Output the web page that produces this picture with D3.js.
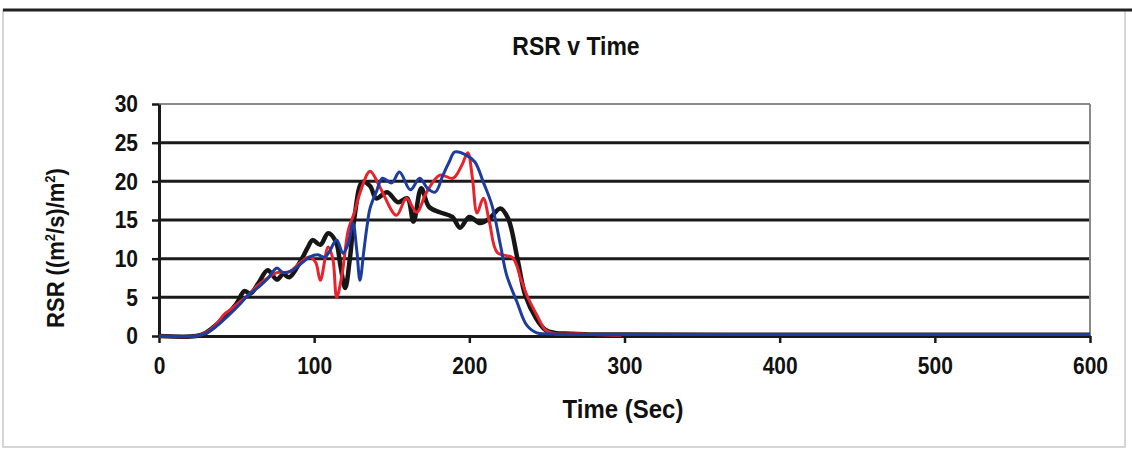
<!DOCTYPE html>
<html>
<head>
<meta charset="utf-8">
<script src="https://cdn.jsdelivr.net/npm/d3@7"></script>
<style>
  body { margin: 0; background: #fff; }
  text { font-family: "Liberation Sans", Arial, sans-serif; font-weight: bold; fill: #111; }
</style>
</head>
<body>
<script>
const w = 1132;
const h = 450;

// tick values
const xTicks = [0, 100, 200, 300, 400, 500, 600];
const yTicks = [0, 5, 10, 15, 20, 25, 30];

// series (time in s, RSR)
const blackTime = [0, 24, 30, 36, 44, 50, 55, 59, 64, 70, 76, 80, 84, 91, 96, 99, 104, 109, 114, 117, 120, 123, 126, 131, 136, 140, 147, 154, 160, 164, 169, 174, 181, 189, 194, 200, 207, 213, 220, 225, 231, 236, 243, 249, 255, 265, 280, 300, 400, 500, 600];
const blackRSR = [0, 0, 0.4, 1.3, 2.8, 4.2, 5.8, 5.5, 6.8, 8.5, 7.3, 8, 7.6, 9.6, 11.5, 12.4, 11.8, 13.3, 12.2, 9, 6.2, 10, 15.4, 19.9, 19.4, 17.8, 18.6, 17.3, 17.8, 14.8, 19.1, 16.7, 16, 15.4, 14, 15.4, 14.6, 15.2, 16.5, 15.2, 10, 5.3, 2.3, 0.8, 0.4, 0.3, 0.2, 0.2, 0.15, 0.15, 0.15];

const redTime = [0, 24, 30, 36, 42, 46, 52, 57, 64, 70, 76, 84, 91, 97, 101, 104, 109, 112, 114.5, 118, 122, 126, 129.5, 136, 141, 144, 153, 159.5, 166, 172.5, 181, 189.5, 195, 199, 202, 205, 209, 213, 218, 228, 233, 237, 243.5, 249, 255, 270, 285, 298];
const redRSR = [0, 0, 0.4, 1.3, 2.8, 3.4, 4.4, 5.2, 6.6, 7.5, 8.2, 8.3, 9.5, 10.2, 9.5, 7.2, 11.5, 10, 5, 8, 13.7, 16, 18.5, 21.3, 19.8, 18.6, 15.6, 17.8, 16, 18.6, 20.8, 20.4, 22, 23.7, 20.4, 15.9, 17.8, 14.7, 10.8, 10.1, 7.5, 5.3, 2.7, 0.8, 0.3, 0.3, 0.15, 0.1];

const blueTime = [0, 24, 30, 36, 44, 53, 57, 64, 70, 76, 80, 86, 93, 97, 102, 107, 110, 114.5, 118.6, 122, 125, 127.5, 129.5, 132, 134, 136, 140, 144, 150, 155, 162, 168, 173, 178, 183, 187, 190.7, 198, 203.6, 209, 214.6, 220, 224, 230.7, 237, 243.5, 250, 270, 300, 400, 500, 600];
const blueRSR = [0, 0, 0.3, 1.1, 2.5, 4.3, 5.2, 6.3, 7.4, 8.8, 8.2, 8.5, 9.6, 10.2, 10.5, 10.2, 11, 12.4, 10.7, 12, 14.6, 11, 7.2, 11, 14.1, 16.5, 18.6, 20.4, 19.8, 21.2, 18.9, 20.4, 19.1, 18.6, 20.8, 22.5, 23.8, 23.4, 22.5, 19.9, 16.9, 11.8, 7.9, 4.4, 1.4, 0.4, 0.3, 0.2, 0.2, 0.2, 0.2, 0.2];

const series = [
  { name: "black", time: blackTime, rsr: blackRSR, color: "#161616", width: 4.5 },
  { name: "red", time: redTime, rsr: redRSR, color: "#e8232b", width: 3 },
  { name: "blue", time: blueTime, rsr: blueRSR, color: "#1c3d9e", width: 3 }
];

const svg = d3
  .select("body")
  .append("svg")
  .attr("width", w)
  .attr("height", h);

svg.append("rect").attr("width", w).attr("height", h).attr("fill", "#fff");

// outer frame
svg
  .append("rect")
  .attr("x", 3)
  .attr("y", 10)
  .attr("width", 1122)
  .attr("height", 437)
  .attr("fill", "none")
  .attr("stroke", "#c8c8c8")
  .attr("stroke-width", 1.5);
svg
  .append("line")
  .attr("x1", 3)
  .attr("x2", w)
  .attr("y1", 10)
  .attr("y2", 10)
  .attr("stroke", "#222")
  .attr("stroke-width", 3);

const x = d3.scaleLinear().domain([0, 600]).range([159, 1090]);
const y = d3.scaleLinear().domain([0, 30]).range([336, 104]);

// gridlines
svg
  .append("g")
  .selectAll("line")
  .data(yTicks.slice(1))
  .enter()
  .append("line")
  .attr("x1", x(0))
  .attr("x2", x(600))
  .attr("y1", d => y(d))
  .attr("y2", d => y(d))
  .attr("stroke", d => (d == 30 ? "#8a8a8a" : "#1a1a1a"))
  .attr("stroke-width", d => (d == 30 ? 2 : 3));

// right border of plot
svg
  .append("line")
  .attr("x1", x(600))
  .attr("x2", x(600))
  .attr("y1", y(30))
  .attr("y2", y(0))
  .attr("stroke", "#8a8a8a")
  .attr("stroke-width", 2);

// axes
const xAxis = svg
  .append("g")
  .attr("transform", "translate(0," + y(0) + ")")
  .call(d3.axisBottom(x).tickValues(xTicks).tickSize(7).tickSizeOuter(0).tickPadding(11));
const yAxis = svg
  .append("g")
  .attr("transform", "translate(" + x(0) + ",0)")
  .call(d3.axisLeft(y).tickValues(yTicks).tickSize(7).tickSizeOuter(0).tickPadding(14));

[xAxis, yAxis].forEach(function(a) {
  a.select(".domain").attr("stroke", "#1a1a1a").attr("stroke-width", 3);
  a.selectAll(".tick line").attr("stroke", "#1a1a1a").attr("stroke-width", 2.5);
  a.selectAll(".tick text")
    .attr("transform", "scale(1,1.15)")
    .style("font-size", "21px")
    .style("font-family", "'Liberation Sans', Arial, sans-serif")
    .style("font-weight", "bold")
    .attr("fill", "#111");
});

// curves
const line = d3
  .line()
  .x(d => x(d[0]))
  .y(d => y(d[1]))
  .curve(d3.curveCatmullRom.alpha(0.5));

svg
  .append("g")
  .selectAll("path")
  .data(series)
  .enter()
  .append("path")
  .attr("d", s => line(s.time.map((t, i) => [t, s.rsr[i]])))
  .attr("fill", "none")
  .attr("stroke", s => s.color)
  .attr("stroke-width", s => s.width)
  .attr("stroke-linejoin", "round");

// titles
svg
  .append("text")
  .attr("transform", "translate(576,55) scale(1,1.1)")
  .attr("text-anchor", "middle")
  .style("font-size", "23px")
  .text("RSR v Time");

svg
  .append("text")
  .attr("transform", "translate(623,418) scale(1,1.1)")
  .attr("text-anchor", "middle")
  .style("font-size", "24px")
  .text("Time (Sec)");

svg
  .append("text")
  .attr("transform", "translate(64,248) rotate(-90) scale(1,1.1)")
  .attr("text-anchor", "middle")
  .style("font-size", "22px")
  .html("RSR ((m<tspan dy='-8' font-size='13px'>2</tspan><tspan dy='8'>/s)/m</tspan><tspan dy='-8' font-size='13px'>2</tspan><tspan dy='8'>)</tspan>");
</script>
</body>
</html>
